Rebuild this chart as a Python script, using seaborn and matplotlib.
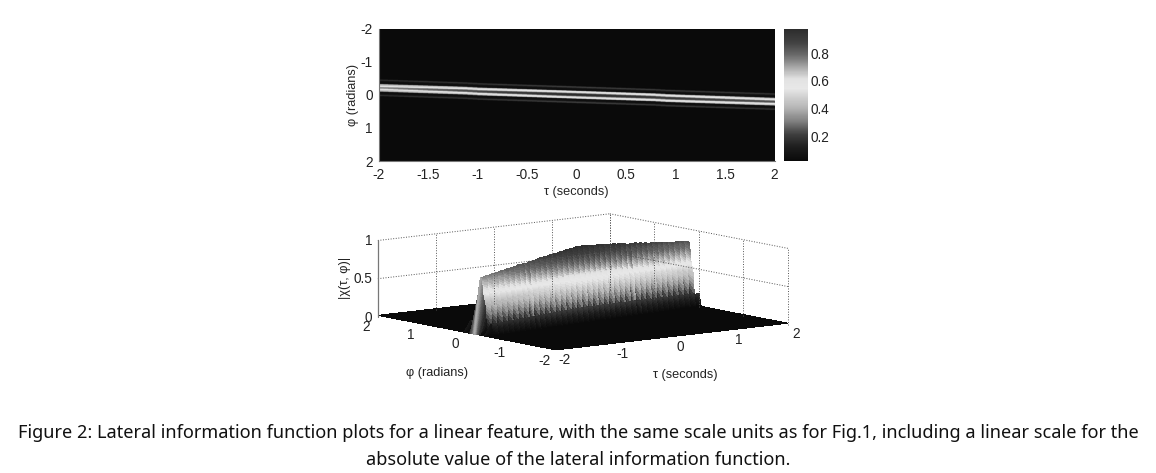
import numpy as np
import pandas as pd
import seaborn as sns
import matplotlib
matplotlib.use('Agg')
import matplotlib.pyplot as plt
from matplotlib.colors import LinearSegmentedColormap
from mpl_toolkits.mplot3d import proj3d

W, H = 1156, 473

tick_taus = [-2, -1.5, -1, -0.5, 0, 0.5, 1, 1.5, 2]
tick_taus_labels = ['-2', '-1.5', '-1', '-0.5', '0', '0.5', '1', '1.5', '2']
tick_phis = [-2, -1, 0, 1, 2]
surf_taus = [-2, -1, 0, 1, 2]
surf_phis = [2, 1, 0, -1, -2]
surf_z = [0, 0.5, 1]
surf_z_labels = ['0', '0.5', '1']
cbar_ticks = [0.2, 0.4, 0.6, 0.8]

# ridge, one entry per tau column (-2 to 2, step 0.1)
ridge_row = [362, 364, 366, 368, 370, 372, 374, 376, 378, 380, 384, 386, 388, 390,
             392, 394, 396, 398, 400, 402, 404, 406, 408, 410, 412, 414, 416, 418,
             420, 424, 426, 428, 430, 432, 434, 436, 438, 440, 442, 444, 446]
ridge_peak = [0.74, 0.75, 0.77, 0.78, 0.79, 0.81, 0.82, 0.83, 0.85, 0.86, 0.87, 0.88,
              0.90, 0.91, 0.92, 0.93, 0.95, 0.96, 0.97, 0.98, 0.98, 0.98, 0.97, 0.97,
              0.96, 0.95, 0.95, 0.94, 0.93, 0.92, 0.92, 0.91, 0.90, 0.89, 0.89, 0.88,
              0.87, 0.86, 0.86, 0.85, 0.84]
# height across the ridge, 0.005 rad steps away from the crest
ridge_profile = [1.0, 0.99, 0.98, 0.96, 0.94, 0.91, 0.88, 0.84, 0.8, 0.76, 0.72, 0.69,
                 0.66, 0.645, 0.63, 0.615, 0.6, 0.585, 0.57, 0.545, 0.52, 0.47, 0.42,
                 0.35, 0.28, 0.21, 0.14, 0.105, 0.07, 0.06, 0.05, 0.05, 0.05, 0.055,
                 0.06, 0.07, 0.08, 0.095, 0.11, 0.125, 0.14, 0.155, 0.17, 0.185, 0.2,
                 0.21, 0.22, 0.21, 0.2, 0.18, 0.16, 0.135, 0.11, 0.085, 0.06, 0.045, 0.03]
floor_level = 0.02

gray_levels = [(0.0, '#0a0a0a'), (0.1, '#1c1c1c'), (0.2, '#3e3e3e'), (0.3, '#808080'),
               (0.4, '#b4b4b4'), (0.55, '#e8e8e8'), (0.62, '#e2e2e2'), (0.7, '#aeaeae'),
               (0.8, '#6a6a6a'), (0.9, '#404040'), (1.0, '#2c2c2c')]
cmap = LinearSegmentedColormap.from_list('lateral', gray_levels)

n_rows, n_cols = 801, len(ridge_row)
heat = np.full((n_rows, n_cols), floor_level)
for c in range(n_cols):
    for k, v in enumerate(ridge_profile):
        val = max(v * ridge_peak[c], floor_level)
        heat[ridge_row[c] + k, c] = val
        heat[ridge_row[c] - k, c] = val
heat_df = pd.DataFrame(heat)

# the 3D view closes the open end of the ridge down to the floor
surf = heat.copy()
surf[:, 0] = floor_level

sns.set_theme(style='white')
plt.rcParams['font.family'] = ['Liberation Sans', 'DejaVu Sans']
plt.rcParams['text.color'] = '#222222'
plt.rcParams['xtick.color'] = '#222222'
plt.rcParams['ytick.color'] = '#222222'

fig = plt.figure(figsize=(W / 100, H / 100), dpi=100)


def box(x0, y0, x1, y1):
    return [x0 / W, 1 - y1 / H, (x1 - x0) / W, (y1 - y0) / H]


# top heatmap
ax = fig.add_axes(box(378.5, 28.5, 774.5, 161))
cax = fig.add_axes(box(784, 28.5, 808, 161))
sns.heatmap(heat_df, ax=ax, cbar_ax=cax, cmap=cmap, vmin=0.02, vmax=0.98,
            xticklabels=False, yticklabels=False, shading='gouraud', rasterized=True)
ax.set_xlim(0, n_cols - 1)
ax.set_ylim(n_rows - 1, 0)
ax.set_xticks([(t + 2) / 4 * (n_cols - 1) for t in tick_taus])
ax.set_xticklabels(tick_taus_labels, fontsize=9.8)
ax.set_yticks([(p + 2) / 4 * (n_rows - 1) for p in tick_phis])
ax.set_yticklabels([str(p) for p in tick_phis], fontsize=9.8, rotation=0)
ax.tick_params(axis='x', length=0, pad=5)
ax.tick_params(axis='y', length=0, pad=4)
ax.set_xlabel('τ (seconds)', fontsize=9.2, labelpad=3)
ax.set_ylabel('φ (radians)', fontsize=9.2, labelpad=1)
for s in ['left', 'bottom']:
    ax.spines[s].set_visible(True)
    ax.spines[s].set_color('#777777')
    ax.spines[s].set_linewidth(0.8)
cax.set_yticks(cbar_ticks)
cax.set_yticklabels(['0.2', '0.4', '0.6', '0.8'], fontsize=9.8)
cax.tick_params(length=0, pad=1.5)

# bottom surface
ax3 = fig.add_axes(box(576.5 - 236, 289 - 236, 576.5 + 236, 289 + 236), projection='3d')
ax3.set_proj_type('ortho')
ax3.view_init(elev=8.6, azim=-127.6)
ax3.set_box_aspect((288, 287, 76), zoom=0.865)
ax3.set_xticks([])
ax3.set_yticks([])
ax3.set_zticks([])
ax3.set_axis_off()
ax3.patch.set_alpha(0)
ax3.set_xlim(-2, 2)
ax3.set_ylim(-2, 2)
ax3.set_zlim(0, 1)

T, P = np.meshgrid(np.linspace(-2, 2, n_cols), np.linspace(-2, 2, n_rows))
ax3.plot_surface(T, P, surf, cmap=cmap, vmin=0.02, vmax=0.98, rstride=1, cstride=1,
                 linewidth=0, antialiased=False, shade=False)

grid_kw = dict(color='#555555', lw=0.7, ls=':')
for t in surf_taus:
    ax3.plot([t, t], [2, 2], [0, 1], **grid_kw)
for p in surf_phis:
    ax3.plot([2, 2], [p, p], [0, 1], **grid_kw)
for z in surf_z[1:]:
    ax3.plot([-2, 2], [2, 2], [z, z], **grid_kw)
    ax3.plot([2, 2], [2, -2], [z, z], **grid_kw)
ax3.plot([-2, -2], [2, 2], [0, 1], color='#777777', lw=0.9)


def label3d(x, y, z, s, ha='center'):
    px, py, _ = proj3d.proj_transform(x, y, z, ax3.get_proj())
    ax3.text2D(px, py, s, transform=ax3.transData, fontsize=9.8, ha=ha, va='center')


for t in surf_taus:
    label3d(t + 0.15, -2, -0.13, str(t))
for p in surf_phis:
    label3d(-2.2, p, -0.11, str(p))
for z, lab in zip(surf_z, surf_z_labels):
    label3d(-2.1, 2, z, lab, ha='right')

fig.text(437 / W, 1 - 373 / H, 'φ (radians)', fontsize=9.2, ha='center', va='center')
fig.text(685 / W, 1 - 375 / H, 'τ (seconds)', fontsize=9.2, ha='center', va='center')
fig.text(345 / W, 1 - 278 / H, '|χ(τ, φ)|', fontsize=9.2, rotation=90, ha='center', va='center')

fig.text(578 / W, 1 - 433 / H,
         'Figure 2: Lateral information function plots for a linear feature, with the same '
         'scale units as for Fig.1, including a linear scale for the',
         fontsize=13.1, ha='center', va='center', family='Noto Sans', weight='medium', color='#111111')
fig.text(578 / W, 1 - 460 / H,
         'absolute value of the lateral information function.',
         fontsize=13.1, ha='center', va='center', family='Noto Sans', weight='medium', color='#111111')

fig.savefig('out.png', dpi=100)
